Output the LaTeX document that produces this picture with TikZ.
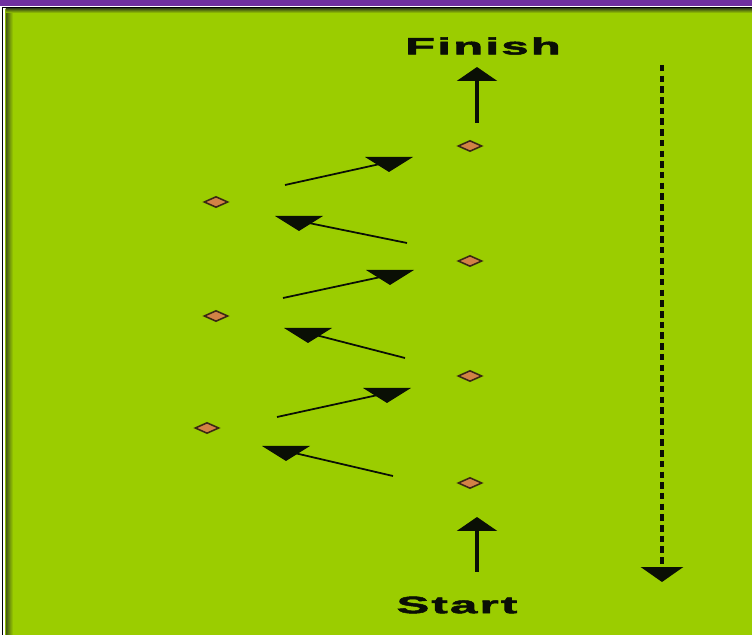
\documentclass[tikz,border=0pt]{standalone}
\usepackage{fontspec}
\setmainfont{Liberation Sans}
\usepackage{tikz}
\usetikzlibrary{arrows.meta, calc}
\definecolor{fieldgreen}{RGB}{155,205,0}
\definecolor{fieldedge}{RGB}{70,90,20}
\definecolor{bandpurple}{RGB}{112,48,160}
\definecolor{coneorange}{RGB}{210,130,70}
\definecolor{conedark}{RGB}{60,40,20}
\definecolor{inkdark}{RGB}{10,15,5}
\tikzset{
  cone/.style={diamond, draw=conedark, fill=coneorange, line width=0.9pt,
    inner sep=0pt, minimum width=0.48cm, minimum height=0.22cm},
  label/.style={font=\fontsize{13.5}{16}\selectfont\bfseries\addfontfeatures{LetterSpace=5,FakeBold=2},
    color=inkdark, xscale=2.05, inner sep=0pt},
  uparrow/.style={-{Triangle[width=0.8cm,length=0.28cm]}, line width=1.9pt, color=inkdark},
  dasharrow/.style={-{Triangle[width=0.84cm,length=0.3cm]}, line width=2.3pt, color=inkdark,
    dash pattern=on 0.13cm off 0.084cm},
  slant/.style={line width=1pt, color=inkdark},
  downhead/.pic={\fill[inkdark] (-24,0) -- (24,0) -- (0,15) -- cycle;}
}
\usetikzlibrary{shapes.geometric}
\begin{document}
\begin{tikzpicture}[x=0.02cm, y=-0.02cm]
  \useasboundingbox (0,0) rectangle (752,635);
  % Frame and field
  \fill[white] (0,0) rectangle (752,635);
  \fill[bandpurple] (0,0) rectangle (752,6);
  \fill[fieldgreen] (5,9) rectangle (752,635);
  \fill[left color=fieldedge, right color=fieldgreen] (6,9) rectangle (13,635);
  \fill[top color=fieldedge, bottom color=fieldgreen] (6,9) rectangle (752,13);
  \draw[black, line width=0.9pt] (2.5,635) -- (2.5,7.5) -- (752,7.5);
  % Labels
  \node[label] (finish) at (483,46) {Finish};
  \node[label] (start) at (457,605) {Start};
  % Cones
  \node[cone] (r1) at (470,146) {};
  \node[cone] (r2) at (470,261) {};
  \node[cone] (r3) at (470,376) {};
  \node[cone] (r4) at (470,483) {};
  \node[cone] (l1) at (216,202) {};
  \node[cone] (l2) at (216,316) {};
  \node[cone] (l3) at (207,428) {};
  % Start and finish arrows
  \coordinate (sa) at (477,572);
  \coordinate (st) at (477,517);
  \coordinate (fa) at (477,123);
  \coordinate (ft) at (477,67);
  \draw[uparrow] (sa) -- (st);
  \draw[uparrow] (fa) -- (ft);
  % Return run
  \coordinate (da) at (662,65);
  \coordinate (dt) at (662,582);
  \draw[dasharrow] (da) -- (dt);
  % Weaving runs
  \coordinate (s1) at (285,185); \coordinate (h1) at (389,157);
  \coordinate (s2) at (407,243); \coordinate (h2) at (299,216);
  \coordinate (s3) at (283,298); \coordinate (h3) at (390,270);
  \coordinate (s4) at (405,358); \coordinate (h4) at (308,328);
  \coordinate (s5) at (277,417); \coordinate (h5) at (387,388);
  \coordinate (s6) at (393,476); \coordinate (h6) at (286,446);
  \foreach \i in {1,...,6} {
    \draw[slant] (s\i) -- ($(h\i)+(0,5)$);
    \pic at (h\i) {downhead};
  }
\end{tikzpicture}
\end{document}
